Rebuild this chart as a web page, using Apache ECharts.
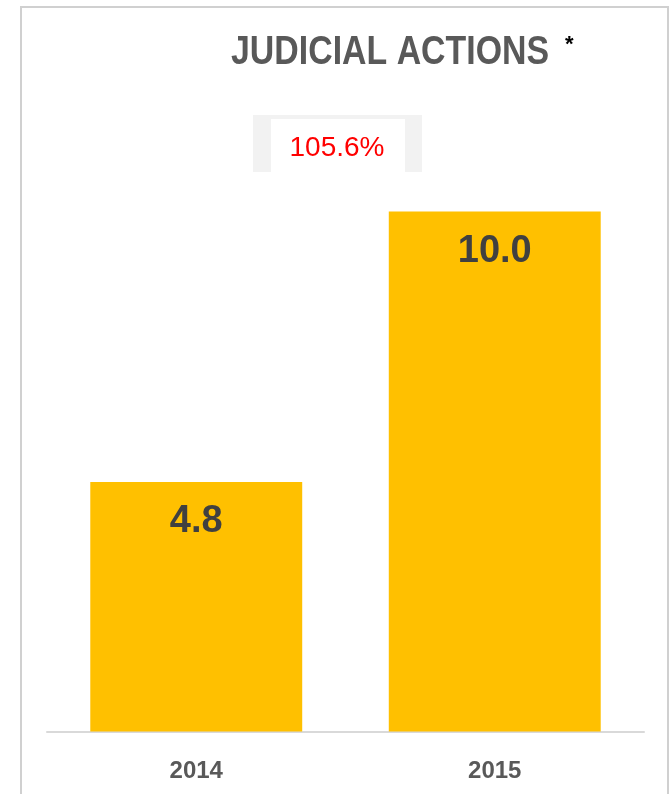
<!DOCTYPE html>
<html>
<head>
<meta charset="utf-8">
<script src="https://cdn.jsdelivr.net/npm/echarts@6/dist/echarts.min.js"></script>
<style>
  html, body { margin: 0; padding: 0; background: #ffffff; }
  #chart { width: 671px; height: 794px; }
</style>
</head>
<body>
<div id="chart"></div>
<script>
// Judicial actions per year
const years = ['2014', '2015'];
const actions = [4.8, 10.0];
const growthLabel = '105.6%';
const titleText = 'JUDICIAL ACTIONS';

const sans = '"Liberation Sans", Arial, sans-serif';

const chart = echarts.init(document.getElementById('chart'), null, { renderer: 'canvas' });

chart.setOption({
  backgroundColor: '#ffffff',
  animation: false,
  grid: { left: 47, right: 27, top: 107.5, bottom: 62.5 },
  xAxis: {
    type: 'category',
    data: years,
    axisLine: { show: true, lineStyle: { color: '#d9d9d9', width: 2 } },
    axisTick: { show: false },
    axisLabel: {
      margin: 28,
      color: '#595959',
      fontSize: 24,
      fontWeight: 'bold',
      fontFamily: sans
    }
  },
  yAxis: {
    type: 'value',
    min: 0,
    max: 12,
    show: false,
    splitLine: { show: false }
  },
  series: [{
    type: 'bar',
    data: actions,
    barCategoryGap: '29%',
    itemStyle: { color: '#ffc000' },
    label: {
      show: true,
      position: 'insideTop',
      distance: 21,
      formatter: p => p.value.toFixed(1),
      color: '#404040',
      fontSize: 38,
      fontWeight: 'bold',
      fontFamily: sans
    }
  }],
  graphic: [
    {
      type: 'rect',
      silent: true,
      z: -10,
      shape: { x: 21, y: 7, width: 647, height: 820 },
      style: { fill: 'none', stroke: '#d0d0d0', lineWidth: 2 }
    },
    {
      // condensed bold title
      type: 'text',
      x: 231,
      y: 33,
      scaleX: 0.847,
      style: {
        text: titleText,
        fill: '#595959',
        font: 'bold 40px ' + sans,
        textAlign: 'left',
        textVerticalAlign: 'top'
      }
    },
    {
      type: 'text',
      x: 565,
      y: 34,
      style: {
        text: '*',
        fill: '#000000',
        font: 'bold 22px ' + sans,
        textAlign: 'left',
        textVerticalAlign: 'top'
      }
    },
    {
      type: 'rect',
      silent: true,
      shape: { x: 253, y: 115, width: 169, height: 57 },
      style: { fill: '#f2f2f2' }
    },
    {
      type: 'rect',
      silent: true,
      shape: { x: 271, y: 119, width: 134, height: 53 },
      style: { fill: '#ffffff' }
    },
    {
      type: 'text',
      x: 337,
      y: 148,
      style: {
        text: growthLabel,
        fill: '#ff0000',
        font: '28px ' + sans,
        textAlign: 'center',
        textVerticalAlign: 'middle'
      }
    }
  ]
});
</script>
</body>
</html>
